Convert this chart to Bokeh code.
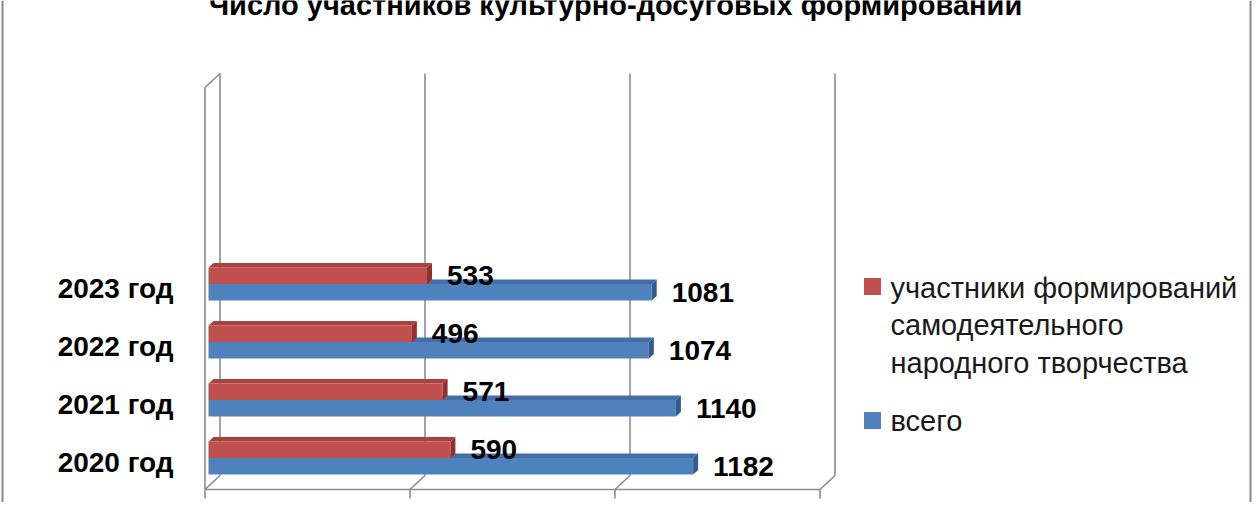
import numpy as np
from bokeh.plotting import figure
from bokeh.models import Range1d, Span, ColumnDataSource
from bokeh.core.properties import value
from bokeh.embed import file_html
from bokeh.resources import INLINE

# ---------------- data ----------------
title_text = "Число участников культурно-досуговых формирований"
categories = ["2020 год", "2021 год", "2022 год", "2023 год"]
series_names = ["участники формирований\nсамодеятельного\nнародного творчества", "всего"]
participants = [590, 571, 496, 533]
total = [1182, 1140, 1074, 1081]
x_ticks = [0, 500, 1000, 1500]

# ---------------- geometry / styles ----------------
W, H = 1252, 502
SX = 0.41          # px per value unit
SY = 58.0          # px per category
ORIGIN_X = 204.5   # canvas px of value 0 (front plane)
ORIGIN_Y = 462.0   # canvas px (from top) of first category
FONT = "Liberation Sans"
RED, RED_TOP, RED_SIDE = "#C0504D", "#A9423F", "#8A3330"
BLUE, BLUE_TOP, BLUE_SIDE = "#4F81BD", "#426FA6", "#345A88"
GRID = "#8c8c8c"

xs = -ORIGIN_X / SX
xe = xs + W / SX
ye = ORIGIN_Y / SY
ys = ye - H / SY


def ux(px):
    return px / SX


def uy(px):
    return px / SY


def at_x(px):
    return xs + px / SX


def at_y(py):
    return ye - py / SY


p = figure(width=W, height=H, x_range=Range1d(xs, xe), y_range=Range1d(ys, ye),
           output_backend="svg", toolbar_location=None, min_border=0,
           x_axis_location=None, y_axis_location=None)
p.grid.visible = False
p.outline_line_color = None
p.background_fill_color = "white"
p.border_fill_color = "white"

# ---------------- 3D walls ----------------
DX, DY = ux(15), uy(14)
y_ff = -uy(27)            # front floor
y_fb = y_ff + DY          # back floor
y_top = uy(389)           # back wall top
tick_arr = np.array(x_ticks, dtype=float)
n = len(tick_arr)
p.segment(tick_arr + DX, np.full(n, y_fb), tick_arr + DX, np.full(n, y_top),
          line_color=GRID, line_width=1.6)
p.segment(tick_arr + DX, np.full(n, y_fb), tick_arr, np.full(n, y_ff),
          line_color=GRID, line_width=1.6)
p.segment([tick_arr.min()], [y_ff], [tick_arr.max()], [y_ff], line_color=GRID, line_width=1.6)
p.segment(tick_arr, np.full(n, y_ff), tick_arr, np.full(n, y_ff - uy(9)),
          line_color=GRID, line_width=1.6)
p.line([tick_arr.min(), tick_arr.min(), tick_arr.min() + DX],
       [y_ff, y_top - DY, y_top], line_color=GRID, line_width=1.6)

# ---------------- bars ----------------
cy = np.arange(len(categories), dtype=float)
bar_x0 = ux(3.5)
BDX, BDY = ux(5), uy(4.5)


def bar3d(vals, bottoms, tops, c_front, c_top, c_side):
    vals = np.asarray(vals, dtype=float)
    right = bar_x0 + vals
    top_xs, top_ys, side_xs, side_ys = [], [], [], []
    for r, b, t in zip(right, bottoms, tops):
        top_xs.append([bar_x0, r, r + BDX, bar_x0 + BDX])
        top_ys.append([t, t, t + BDY, t + BDY])
        side_xs.append([r, r + BDX, r + BDX, r])
        side_ys.append([b, b + BDY, t + BDY, t])
    p.patches(top_xs, top_ys, fill_color=c_top, line_color=None)
    p.patches(side_xs, side_ys, fill_color=c_side, line_color=None)
    rr = p.quad(left=np.full(len(vals), bar_x0), right=right, bottom=bottoms, top=tops,
                fill_color=c_front, line_color=None)
    return rr, right


blue_b, blue_t = cy - 0.205, cy + 0.078
red_b, red_t = cy + 0.078, cy + 0.36
r_blue, blue_right = bar3d(total, blue_b, blue_t, BLUE, BLUE_TOP, BLUE_SIDE)
r_red, red_right = bar3d(participants, red_b, red_t, RED, RED_TOP, RED_SIDE)

# value labels
lab_src = ColumnDataSource(dict(
    x=list(red_right) + list(blue_right),
    y=list((red_b + red_t) / 2) + list((blue_b + blue_t) / 2),
    t=[str(v) for v in participants] + [str(v) for v in total]))
p.text(x="x", y="y", text="t", source=lab_src, x_offset=20, text_align="left",
       text_baseline="middle", text_font=value(FONT), text_font_style="bold",
       text_font_size="28px", text_color="black")

# category labels
p.text(x=np.zeros(len(categories)), y=cy, text=categories, x_offset=-31.5,
       text_align="right", text_baseline="middle", text_font=value(FONT),
       text_font_style="bold", text_font_size="28px", text_color="black")

# title (cut at the top edge, like the reference)
p.text(x=[at_x(615)], y=[at_y(4)], text=[title_text], text_align="center",
       text_baseline="alphabetic", text_font=value(FONT), text_font_style="bold",
       text_font_size="29px", text_color="black")

# chart border
p.add_layout(Span(location=at_x(2), dimension="height", line_color="#8a8a8a", line_width=2))
p.add_layout(Span(location=at_x(W - 2), dimension="height", line_color="#8a8a8a", line_width=2))

# legend (squares aligned to the first line of each label)
leg_colors = [RED, BLUE]
leg_sq_py = [286, 420]
leg_txt_py = [325, 420]
p.scatter(x=[at_x(872)] * 2, y=[at_y(v) for v in leg_sq_py], marker="square", size=17,
          fill_color=leg_colors, line_color=None)
p.text(x=[at_x(890)] * 2, y=[at_y(v) for v in leg_txt_py], text=series_names,
       text_align="left", text_baseline="middle", text_font=value(FONT),
       text_font_size="29px", text_line_height=1.18, text_color="#1a1a1a")

open("out.html", "w").write(file_html(p, INLINE))
